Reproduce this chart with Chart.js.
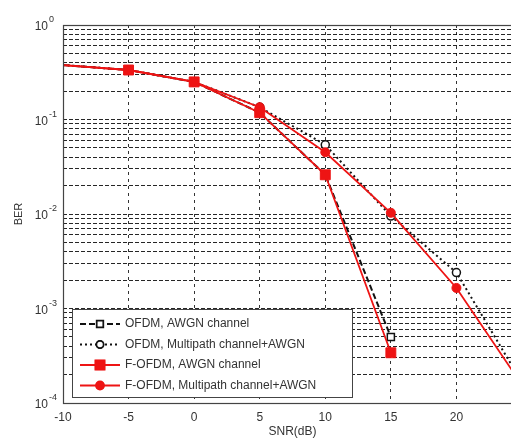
<!DOCTYPE html>
<html>
<head>
<meta charset="utf-8">
<script src="https://cdn.jsdelivr.net/npm/chart.js@4.4.1/dist/chart.umd.min.js"></script>
<style>
  html, body { margin: 0; padding: 0; background: #fff; overflow: hidden; }
  #wrap { width: 540px; height: 439px; }
</style>
</head>
<body>
<div id="wrap"><canvas id="c" width="540" height="439"></canvas></div>
<script>
// values (BER vs SNR)
const snr = [-10, -5, 0, 5, 10, 15, 20, 25];
const ofdmAwgn = [0.377, 0.334, 0.25, 0.118, 0.026, 0.0005, null, null];
const ofdmMulti = [0.377, 0.334, 0.25, 0.135, 0.054, 0.0095, 0.0024, 0.000165];
const fofdmAwgn = [0.377, 0.334, 0.25, 0.118, 0.026, 0.00034, null, null];
const fofdmMulti = [0.377, 0.334, 0.25, 0.135, 0.045, 0.0103, 0.00165, 0.000155];
const legendLabels = [
  'OFDM, AWGN channel',
  'OFDM, Multipath channel+AWGN',
  'F-OFDM, AWGN channel',
  'F-OFDM, Multipath channel+AWGN'
];
const yDecades = [1, 0.1, 0.01, 0.001, 0.0001];
const yExps = ['0', '-1', '-2', '-3', '-4'];

const RED = 'rgb(238,20,20)';
const BLACK = '#111';

function pts(arr) {
  return snr.map((x, i) => ({ x: x, y: arr[i] }));
}
function radii(r) {
  return snr.map((x, i) => (i === 0 ? 0 : r));
}

const datasets = [
  { label: legendLabels[0], data: pts(ofdmAwgn), borderColor: BLACK, borderWidth: 2,
    borderDash: [6, 3], pointStyle: 'rect', pointRadius: radii(5),
    pointBackgroundColor: '#fff', pointBorderColor: BLACK, pointBorderWidth: 1.5, order: 2 },
  { label: legendLabels[1], data: pts(ofdmMulti), borderColor: BLACK, borderWidth: 2,
    borderDash: [2, 3], pointStyle: 'circle', pointRadius: radii(4),
    pointBackgroundColor: '#fff', pointBorderColor: BLACK, pointBorderWidth: 1.5, order: 2 },
  { label: legendLabels[2], data: pts(fofdmAwgn), borderColor: RED, borderWidth: 1.8,
    pointStyle: 'rect', pointRadius: radii(7),
    pointBackgroundColor: RED, pointBorderColor: RED, pointBorderWidth: 1, order: 1 },
  { label: legendLabels[3], data: pts(fofdmMulti), borderColor: RED, borderWidth: 1.8,
    pointStyle: 'circle', pointRadius: radii(4.5),
    pointBackgroundColor: RED, pointBorderColor: RED, pointBorderWidth: 1, order: 1 }
];

const matlabBits = {
  id: 'matlabBits',
  afterDraw(chart) {
    const ctx = chart.ctx;
    const a = chart.chartArea;
    const ys = chart.scales.y;
    ctx.save();
    // axes box
    ctx.strokeStyle = '#444';
    ctx.lineWidth = 1.2;
    ctx.setLineDash([]);
    ctx.strokeRect(a.left + 0.5, a.top + 0.5, a.right - a.left, a.bottom - a.top);

    // y tick labels 10^n
    ctx.fillStyle = '#333';
    yDecades.forEach((v, i) => {
      const py = ys.getPixelForValue(v);
      ctx.font = '12px "Liberation Sans", Arial, sans-serif';
      ctx.textAlign = 'right';
      ctx.textBaseline = 'middle';
      ctx.fillText('10', a.left - 15, py + 2);
      ctx.font = '9px "Liberation Sans", Arial, sans-serif';
      ctx.textAlign = 'left';
      ctx.fillText(yExps[i], a.left - 14, py - 5);
    });

    // legend box inside the axes
    const x0 = a.left + 9, w = 280, h = 88;
    const y0 = a.bottom - 6 - h;
    ctx.fillStyle = '#fff';
    ctx.fillRect(x0, y0, w, h);
    ctx.strokeStyle = '#444';
    ctx.lineWidth = 1;
    ctx.strokeRect(x0 + 0.5, y0 + 0.5, w, h);
    chart.data.datasets.forEach((ds, i) => {
      const ry = y0 + 15 + i * 20.5;
      ctx.strokeStyle = ds.borderColor;
      ctx.lineWidth = ds.borderWidth;
      ctx.setLineDash(ds.borderDash || []);
      ctx.beginPath();
      ctx.moveTo(x0 + 8, ry);
      ctx.lineTo(x0 + 48, ry);
      ctx.stroke();
      ctx.setLineDash([]);
      Chart.helpers.drawPoint(ctx, {
        pointStyle: ds.pointStyle, radius: ds.pointRadius[1] - 0.5,
        borderWidth: ds.pointBorderWidth, rotation: 0
      }, x0 + 28, ry);
      ctx.fillStyle = ds.pointBackgroundColor;
      ctx.strokeStyle = ds.pointBorderColor;
      ctx.lineWidth = ds.pointBorderWidth;
      ctx.fill();
      ctx.stroke();
      ctx.fillStyle = '#333';
      ctx.font = '12px "Liberation Sans", Arial, sans-serif';
      ctx.textAlign = 'left';
      ctx.textBaseline = 'middle';
      ctx.fillText(legendLabels[i], x0 + 53, ry);
    });
    ctx.restore();
  }
};

const allLogTicks = [];
for (let e = -4; e <= 0; e++) {
  for (let m = 1; m <= 9; m++) {
    const v = m * Math.pow(10, e);
    if (v <= 1.0000001) allLogTicks.push({ value: v });
  }
}

new Chart(document.getElementById('c'), {
  type: 'line',
  data: { datasets: datasets },
  options: {
    responsive: false,
    animation: false,
    layout: { padding: { top: 25, right: 18, left: 0, bottom: 0 } },
    plugins: { legend: { display: false }, tooltip: { enabled: false } },
    elements: { line: { tension: 0 } },
    scales: {
      x: {
        type: 'linear',
        min: -10,
        max: 25,
        ticks: {
          stepSize: 5,
          autoSkip: false,
          maxRotation: 0,
          padding: 7,
          color: '#333',
          font: { family: '"Liberation Sans", Arial, sans-serif', size: 12 }
        },
        grid: { color: 'rgba(0,0,0,0.8)', lineWidth: 1, drawTicks: false, borderDash: [3, 4] },
        border: { display: false, dash: [3, 4] },
        title: {
          display: true, text: 'SNR(dB)', color: '#333',
          font: { family: '"Liberation Sans", Arial, sans-serif', size: 12 },
          padding: { top: 0, bottom: 0 }
        },
        afterFit(scale) { scale.height = 36; }
      },
      y: {
        type: 'logarithmic',
        min: 0.0001,
        max: 1,
        afterBuildTicks(scale) { scale.ticks = allLogTicks.map(t => ({ value: t.value })); },
        ticks: { display: false },
        grid: { color: 'rgba(0,0,0,0.85)', lineWidth: 1, drawTicks: false, borderDash: [4, 2] },
        border: { display: false, dash: [4, 2] },
        title: {
          display: true, text: 'BER', color: '#333',
          font: { family: '"Liberation Sans", Arial, sans-serif', size: 11 },
          padding: { top: 12, bottom: 0 }
        },
        afterFit(scale) { scale.width = 63; }
      }
    }
  },
  plugins: [matlabBits]
});
</script>
</body>
</html>
